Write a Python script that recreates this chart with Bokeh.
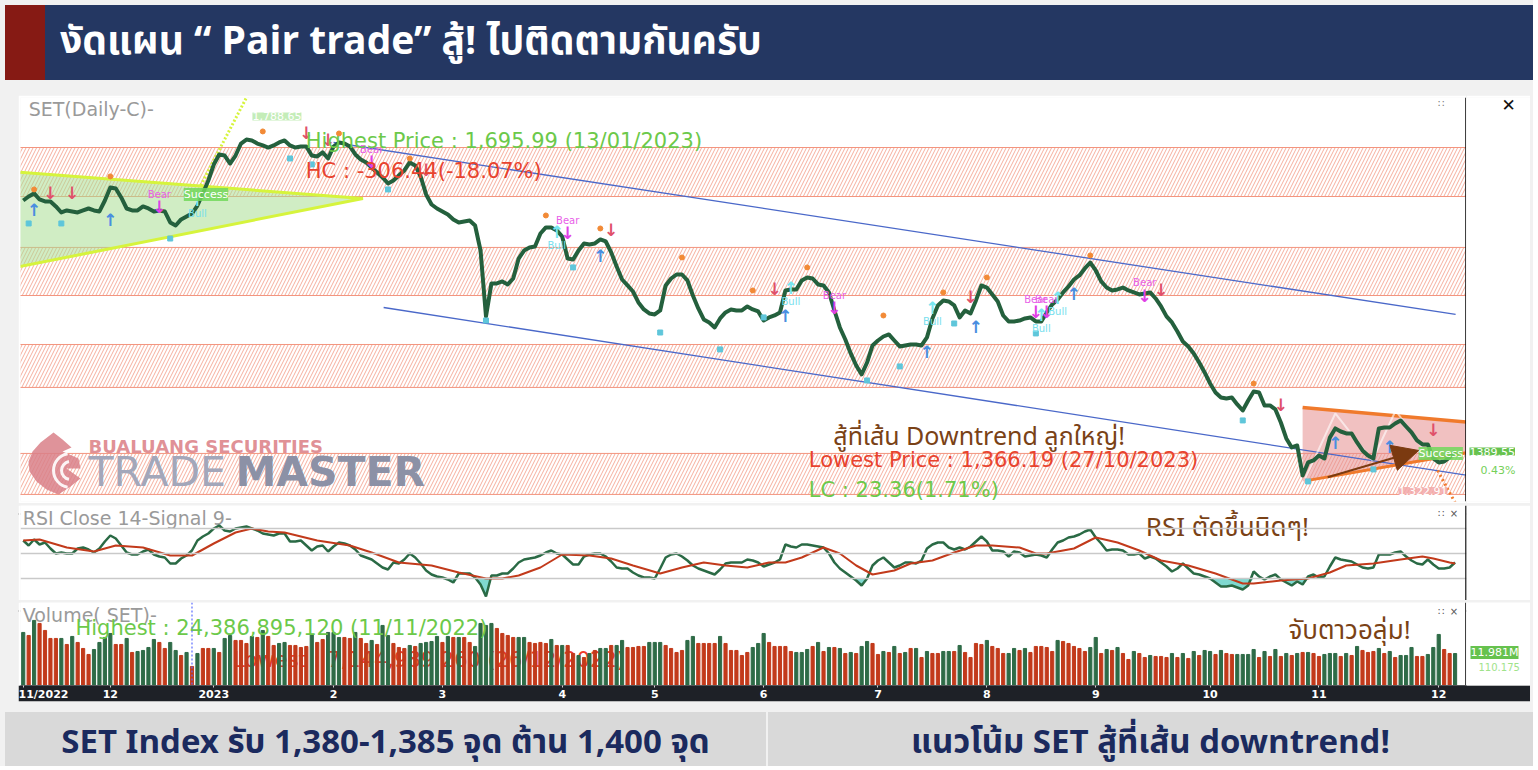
import numpy as np
from bokeh.plotting import figure
from bokeh.models import (Range1d, ColumnDataSource, Span, Label, Div,
                          FixedTicker, Arrow, NormalHead)
from bokeh.layouts import column, row
from bokeh.core.properties import value
from bokeh.embed import file_html
from bokeh.resources import INLINE

# ---------------------------------------------------------------- data
# trading-day index 0 = 9 Nov 2022 ... 263 = 1 Dec 2023
close = [
    1634.5, 1638.4, 1641.4, 1635.5, 1633.6, 1633.6, 1628.7, 1622.8, 1624.8, 1623.8,
    1622.8, 1624.8, 1626.7, 1624.8, 1623.8, 1634.5, 1647.2, 1646.2, 1637.5, 1626.7,
    1624.8, 1624.8, 1628.7, 1626.7, 1623.8, 1624.8, 1623.8, 1613.1, 1610.1, 1616.0,
    1618.9, 1621.8, 1629.6, 1641.4, 1654.0, 1669.6, 1679.4, 1678.4, 1670.6, 1678.4,
    1690.1, 1694.0, 1693.1, 1690.1, 1688.2, 1686.2, 1688.2, 1691.1, 1693.1, 1688.2,
    1686.2, 1687.2, 1687.2, 1678.4, 1677.5, 1681.4, 1675.5, 1687.2, 1691.1, 1690.1,
    1687.2, 1679.4, 1674.5, 1671.6, 1666.7, 1661.9, 1657.0, 1651.1, 1654.0, 1658.9,
    1663.8, 1671.6, 1668.7, 1657.9, 1640.4, 1630.6, 1626.7, 1623.8, 1620.9, 1616.0,
    1613.1, 1614.0, 1615.0, 1610.1, 1585.7, 1521.4, 1553.6, 1553.6, 1555.5, 1552.6,
    1558.4, 1577.9, 1585.7, 1588.7, 1589.6, 1602.3, 1608.2, 1608.2, 1605.3, 1599.4,
    1577.9, 1577.0, 1585.7, 1592.6, 1591.6, 1592.6, 1596.5, 1594.5, 1583.8, 1570.1,
    1557.4, 1551.6, 1545.7, 1535.0, 1528.2, 1524.3, 1523.3, 1527.2, 1551.6, 1558.4,
    1562.3, 1562.3, 1556.5, 1541.8, 1529.2, 1518.4, 1515.5, 1510.6, 1519.4, 1525.3,
    1528.2, 1527.2, 1527.2, 1531.1, 1528.2, 1526.2, 1517.4, 1520.4, 1522.3, 1525.3,
    1546.7, 1547.7, 1547.7, 1556.5, 1559.4, 1558.4, 1552.6, 1551.6, 1544.8, 1527.2,
    1510.6, 1498.9, 1485.3, 1473.5, 1464.8, 1476.4, 1493.1, 1497.9, 1501.8, 1503.8,
    1497.9, 1492.1, 1493.1, 1494.0, 1494.0, 1493.1, 1500.9, 1519.4, 1532.1, 1537.0,
    1536.0, 1532.1, 1520.4, 1527.2, 1524.3, 1537.0, 1551.6, 1549.6, 1542.8, 1536.0,
    1522.3, 1516.5, 1516.5, 1517.4, 1519.4, 1520.4, 1516.5, 1516.5, 1525.3, 1533.1,
    1537.9, 1544.8, 1550.6, 1557.4, 1561.4, 1568.2, 1574.0, 1566.2, 1555.5, 1549.6,
    1546.7, 1547.7, 1549.6, 1546.7, 1544.8, 1542.8, 1543.8, 1544.8, 1538.9, 1531.1,
    1521.4, 1515.5, 1506.7, 1496.9, 1492.1, 1485.3, 1476.4, 1466.7, 1456.0, 1447.2,
    1442.3, 1441.3, 1442.3, 1435.5, 1429.6, 1439.4, 1448.2, 1447.2, 1434.5, 1434.5,
    1430.6, 1417.9, 1402.3, 1393.5, 1395.5, 1366.19, 1378.9, 1380.9, 1385.7, 1382.8,
    1403.3, 1412.1, 1409.1, 1407.2, 1407.2, 1398.4, 1390.6, 1385.7, 1382.8, 1412.1,
    1413.0, 1413.0, 1416.9, 1419.9, 1414.0, 1408.2, 1400.4, 1396.5, 1396.5, 1382.8,
    1378.9, 1379.9, 1383.8, 1389.55]

rsi = [
    60.4, 56.4, 61.2, 57.2, 58.8, 54.0, 50.0, 50.8, 50.0, 50.0,
    54.0, 54.8, 53.2, 50.8, 54.0, 59.6, 64.4, 62.0, 56.4, 50.8,
    49.2, 49.2, 51.6, 53.2, 49.2, 47.6, 46.8, 42.0, 42.0, 46.0,
    48.4, 52.4, 60.4, 63.6, 66.0, 70.0, 72.4, 68.4, 67.6, 70.0,
    70.8, 71.6, 70.0, 68.4, 66.0, 65.2, 64.4, 66.0, 66.0, 59.6,
    59.6, 60.4, 56.4, 52.4, 55.6, 56.4, 51.6, 55.6, 58.8, 58.0,
    56.4, 53.2, 48.4, 46.8, 45.2, 42.0, 38.8, 37.2, 42.8, 42.0,
    45.2, 50.0, 46.8, 42.0, 36.4, 33.2, 31.6, 30.8, 29.2, 26.8,
    34.0, 34.0, 34.0, 30.8, 25.2, 15.6, 32.4, 32.4, 34.0, 34.0,
    38.0, 42.8, 45.2, 46.0, 46.8, 48.4, 50.8, 52.4, 50.0, 49.2,
    45.2, 41.2, 41.2, 47.6, 49.2, 50.0, 50.0, 47.6, 43.6, 38.8,
    38.0, 38.0, 34.8, 32.4, 30.8, 30.8, 30.0, 38.0, 46.8, 49.2,
    50.0, 47.6, 44.4, 40.4, 38.0, 36.4, 34.8, 33.2, 37.2, 42.0,
    42.8, 42.8, 42.8, 45.2, 44.4, 42.8, 39.6, 41.2, 42.8, 45.2,
    57.2, 55.6, 54.8, 57.2, 57.2, 56.4, 55.6, 54.8, 50.0, 42.8,
    38.0, 34.8, 31.6, 28.4, 24.4, 30.0, 40.4, 44.4, 46.8, 42.8,
    38.8, 40.4, 42.8, 42.8, 42.0, 44.4, 54.0, 57.2, 58.8, 58.8,
    54.8, 53.2, 54.8, 53.2, 55.6, 59.6, 63.6, 59.6, 52.4, 52.4,
    51.6, 47.6, 51.6, 50.8, 47.6, 48.4, 49.2, 48.4, 46.8, 53.2,
    58.8, 60.4, 62.8, 63.6, 65.2, 67.6, 69.2, 62.8, 58.0, 52.4,
    53.2, 53.2, 52.4, 49.2, 49.2, 50.0, 46.0, 47.6, 46.0, 42.8,
    39.6, 35.6, 38.0, 42.0, 38.0, 34.0, 33.2, 31.6, 30.0, 26.8,
    23.6, 23.6, 24.4, 22.8, 21.2, 24.4, 35.6, 31.6, 29.2, 31.6,
    33.2, 29.2, 26.8, 24.4, 27.6, 25.2, 31.6, 33.2, 30.8, 31.6,
    39.6, 46.8, 45.2, 44.4, 43.6, 41.2, 38.8, 38.0, 38.8, 49.2,
    49.2, 49.2, 50.8, 51.6, 47.6, 44.4, 42.0, 41.2, 45.2, 41.2,
    38.0, 38.0, 38.8, 42.8]

signal_day = [0, 3, 8, 13, 17, 22, 27, 31, 35, 39, 42, 45, 48, 54, 60, 64, 69, 75, 80, 85,
              88, 91, 95, 99, 104, 108, 112, 117, 121, 125, 129, 133, 137, 140, 143, 147, 150, 153, 156, 160,
              163, 167, 171, 175, 178, 183, 186, 188, 193, 197, 201, 205, 209, 214, 219, 224, 226, 231, 236, 240,
              243, 248, 253, 257, 259, 262, 263]
signal_val = [60.4, 61.2, 54.8, 51.6, 56.4, 54.8, 48.4, 48.4, 58.0, 66.8,
              70.0, 67.6, 66.8, 60.4, 56.4, 50.8, 42.8, 40.4, 34.8, 30.0,
              30.0, 32.4, 38.8, 49.2, 48.4, 46.0, 40.4, 34.0, 38.8, 42.8,
              40.4, 38.8, 42.8, 42.8, 46.8, 54.8, 50.0, 40.4, 33.2, 36.4,
              42.0, 44.4, 50.8, 56.4, 56.4, 54.8, 50.0, 50.0, 54.0, 62.8,
              58.8, 52.4, 44.4, 40.4, 34.0, 26.0, 26.0, 28.4, 30.0, 34.8,
              40.4, 42.0, 45.2, 47.6, 46.0, 42.8, 42.0]
rsi_levels = [70, 50, 30]

# traded value, billion baht
volume_bn = [
    19.88, 18.75, 24.39, 23.25, 20.63, 17.63, 17.63, 17.63, 15.38, 18.38,
    16.13, 13.88, 11.63, 13.5, 16.13, 18.0, 19.5, 15.38, 15.38, 17.63,
    12.38, 12.75, 13.13, 14.25, 17.25, 16.13, 13.88, 16.13, 13.13, 11.25,
    12.38, 7.14, 12.0, 13.88, 13.88, 13.88, 12.38, 17.63, 18.75, 16.88,
    16.88, 15.75, 18.38, 18.0, 20.63, 18.38, 15.0, 15.75, 16.13, 15.0,
    15.0, 14.25, 14.63, 19.13, 16.13, 17.25, 19.88, 19.88, 18.0, 18.0,
    17.63, 19.88, 17.63, 15.75, 16.88, 15.38, 22.5, 18.75, 15.75, 14.25,
    13.88, 15.0, 14.63, 15.75, 16.13, 16.5, 18.38, 16.13, 18.38, 18.0,
    18.0, 18.0, 16.13, 14.63, 23.25, 22.5, 23.25, 21.38, 19.5, 18.75,
    18.0, 18.0, 18.0, 16.13, 15.75, 16.13, 15.75, 17.25, 15.0, 15.0,
    15.0, 12.0, 11.25, 10.5, 12.0, 13.13, 13.88, 13.88, 15.0, 15.0,
    16.88, 14.25, 14.25, 14.63, 14.63, 16.13, 16.13, 16.13, 15.0, 13.88,
    12.38, 13.13, 16.88, 18.38, 15.75, 15.75, 15.75, 15.75, 18.38, 15.75,
    13.13, 13.13, 11.25, 12.38, 14.25, 15.75, 19.5, 16.13, 14.63, 14.63,
    14.63, 12.75, 12.38, 12.38, 13.5, 14.63, 16.13, 12.75, 14.25, 14.25,
    13.88, 12.0, 12.38, 12.0, 14.63, 16.5, 15.75, 11.63, 12.75, 12.38,
    14.63, 12.0, 12.38, 13.88, 13.88, 10.5, 12.75, 12.0, 12.0, 12.75,
    12.75, 12.75, 15.0, 12.38, 10.5, 15.75, 15.38, 16.88, 14.63, 13.88,
    12.0, 12.0, 13.88, 13.13, 13.88, 12.38, 14.63, 14.63, 14.25, 12.75,
    16.88, 16.5, 15.75, 14.63, 13.88, 12.75, 14.25, 18.0, 12.0, 13.5,
    13.13, 14.25, 12.0, 9.75, 12.75, 12.0, 10.5, 11.25, 10.88, 10.88,
    10.5, 12.0, 10.5, 12.0, 10.13, 12.75, 11.25, 13.13, 12.75, 11.63,
    13.13, 12.0, 11.63, 11.63, 11.63, 11.63, 13.5, 10.5, 12.75, 10.88,
    13.5, 10.88, 12.0, 11.25, 12.0, 12.38, 12.38, 12.0, 10.88, 11.63,
    12.0, 12.0, 10.88, 12.0, 11.25, 14.63, 13.13, 12.38, 12.75, 13.88,
    12.0, 12.75, 10.5, 11.25, 11.25, 14.25, 10.88, 10.88, 11.63, 14.25,
    19.13, 13.5, 12.0, 11.98]
volume_up = [
    1, 0, 1, 0, 0, 0, 0, 1, 0, 1,  0, 0, 0, 1, 1, 1, 1, 0, 0, 1,
    0, 1, 1, 1, 1, 0, 0, 1, 1, 0,  1, 0, 1, 0, 0, 1, 0, 1, 1, 0,
    0, 0, 1, 0, 1, 0, 0, 1, 1, 0,  0, 0, 0, 1, 0, 0, 1, 1, 1, 0,
    0, 1, 0, 0, 1, 0, 1, 1, 0, 0,  0, 1, 0, 1, 1, 1, 1, 0, 1, 0,
    1, 0, 0, 1, 1, 1, 1, 0, 0, 0,  0, 1, 1, 0, 0, 0, 0, 1, 0, 1,
    0, 0, 1, 0, 1, 0, 1, 1, 0, 1,  1, 0, 0, 0, 0, 1, 1, 1, 0, 0,
    0, 0, 1, 1, 0, 0, 0, 0, 1, 0,  0, 0, 0, 0, 1, 1, 1, 0, 0, 0,
    0, 0, 1, 1, 1, 0, 1, 0, 1, 0,  1, 0, 1, 0, 1, 1, 0, 0, 1, 0,
    1, 0, 1, 0, 1, 0, 1, 0, 0, 1,  1, 0, 1, 0, 0, 0, 0, 1, 0, 0,
    0, 1, 1, 0, 1, 0, 0, 0, 0, 0,  1, 0, 0, 0, 0, 0, 1, 1, 0, 1,
    0, 1, 0, 0, 1, 0, 0, 1, 0, 0,  0, 1, 0, 1, 0, 1, 0, 1, 1, 0,
    1, 0, 0, 1, 1, 1, 1, 0, 1, 0,  1, 0, 1, 0, 1, 0, 1, 0, 0, 1,
    1, 1, 0, 1, 0, 1, 0, 0, 0, 1,  0, 1, 0, 1, 1, 1, 0, 0, 1, 1,
    1, 0, 0, 1]

month_tick_day = [0, 16, 35, 57, 77, 99, 116, 136, 157, 177, 197, 218, 238, 260]
month_tick_label = ["11/2022", "12", "2023", "2", "3", "4", "5", "6", "7", "8",
                    "9", "10", "11", "12"]

# support / resistance zones (index points)
zone_bottom = [1638.4, 1541.8, 1452.1, 1347.7]
zone_top = [1686.2, 1588.7, 1494.0, 1387.7]

# drawn trend lines / patterns (day, price)
upper_trend_day = [57.0, 263.1]
upper_trend_price = [1691.1, 1523.3]
lower_trend_day = [66.2, 265.1]
lower_trend_price = [1530.1, 1366.4]
wedge_day = [-1.0, 62.4, -1.0]
wedge_price = [1662.2, 1636.5, 1569.6]
breakout_day = [32.6, 41.5]
breakout_price = [1649.2, 1740.0]
flag_day = [235.0, 265.5, 265.5, 235.0]
flag_price = [1432.5, 1418.2, 1388.2, 1360.4]
flag_top_day = [235.0, 265.5]
flag_top_price = [1432.5, 1418.2]
flag_bot_day = [236.0, 265.5]
flag_bot_price = [1361.4, 1388.7]
flag_legs_day = [235.5, 241.0, 247.8, 252.1, 257.6]
flag_legs_price = [1363.3, 1426.7, 1380.9, 1429.6, 1388.7]
target_dn_day = [259.8, 264.0]
target_dn_price = [1371.0, 1330.0]
hint_arrow_day = [239.6, 256.3]
hint_arrow_price = [1364.4, 1390.6]

# watermark logo outline (decoration)
logo_day = [5.57, 7.22, 8.87, 7.22, 10.16, 10.53, 7.95, 10.53, 8.69, 6.48,
            4.28, 2.44, 1.16, 0.97, 1.71, 3.18]
logo_price = [1408.2, 1401.3, 1393.5, 1389.6, 1382.8, 1373.0, 1373.0, 1363.3, 1355.5, 1347.7,
              1352.5, 1360.4, 1370.1, 1379.9, 1389.6, 1398.4]

# signal markers
swing_high_day = [2, 16, 44, 58, 71, 96, 106, 121, 134, 144, 158, 169, 177, 196, 226]
swing_high_price = [1645.3, 1658.0, 1701.9, 1699.9, 1675.5, 1619.9, 1607.2, 1578.9,
                    1546.7, 1569.2, 1522.3, 1544.8, 1559.4, 1580.9, 1455.9]
swing_low_day = [1, 7, 27, 49, 53, 67, 85, 101, 117, 128, 136, 155, 161, 171, 186, 224, 236, 248]
swing_low_price = [1612.1, 1612.1, 1597.4, 1675.5, 1669.7, 1645.3, 1517.4, 1569.2, 1505.7,
                   1489.2, 1520.4, 1458.9, 1472.6, 1514.5, 1504.8, 1419.9, 1360.4, 1372.1]
sell_day = [5, 9, 52, 56, 74, 108, 138, 174, 209, 231, 259]
sell_price = [1641.4, 1641.4, 1699.9, 1694.0, 1663.8, 1605.3, 1547.7, 1539.9, 1546.7, 1434.5, 1410.1]
buy_day = [2, 16, 106, 140, 166, 175, 193, 241, 251]
buy_price = [1624.8, 1615.0, 1579.9, 1521.4, 1486.2, 1510.6, 1542.8, 1397.4, 1393.5]
bear_day = [25, 64, 100, 149, 186, 188, 206]
bear_price = [1627.7, 1671.6, 1602.3, 1529.2, 1525.3, 1525.3, 1541.8]
bull_day = [32, 98, 141, 167, 187, 190]
bull_price = [1634.5, 1603.3, 1548.7, 1529.2, 1522.3, 1538.9]

# ---------------------------------------------------------------- styling
day = np.arange(len(close))
X0, X1 = -0.5, 265.1
xr = Range1d(X0, X1)
FONT = "DejaVu Sans"
LAT = value(FONT)
THAI = value("Noto Sans Thai, Noto Sans, sans-serif")
GREEN_TXT = "#6cc94a"
RED_TXT = "#e8432e"
BROWN = "#7a4216"
LINE_G = "#24603d"
BAR_G = "#2e6b47"
BAR_R = "#c23a1b"
LEFT = 18


def panel(w, h, xrange, yrange, top=0, bottom=0, right=0, left=2, mtop=0, mleft=LEFT):
    p = figure(width=w, height=h, x_range=xrange, y_range=yrange,
               output_backend="svg", toolbar_location=None,
               x_axis_location=None, y_axis_location=None,
               min_border_left=left, min_border_right=right,
               min_border_top=top, min_border_bottom=bottom,
               background_fill_color="white", border_fill_color="white",
               outline_line_color=None, margin=(mtop, 0, 0, mleft))
    p.grid.visible = False
    return p


# ---------------------------------------------------------------- price panel
price_range = Range1d(1340.8, 1735.0)
pp = panel(1448, 408, xr, price_range, top=2, bottom=2, mtop=15)
pp_r = panel(64, 408, Range1d(0, 64), price_range, top=2, bottom=2, left=0, mtop=15, mleft=0)

pp.quad(left=-5, right=300, bottom=zone_bottom, top=zone_top,
        fill_alpha=0, line_color="#f3957f", line_width=1,
        hatch_pattern="/", hatch_color="#f5a592", hatch_scale=7, hatch_weight=0.9)

pp.patch(wedge_day, wedge_price, fill_color="#a9df93", fill_alpha=0.55,
         line_color="#d6f43c", line_width=3)
pp.patch(flag_day, flag_price, fill_color="#e58e8e", fill_alpha=0.55, line_color=None)

# watermark
pp.patch(logo_day, logo_price, fill_color="#d98088", fill_alpha=0.85, line_color=None)
pp.arc(x=[8.69, 8.69], y=[1371.1, 1371.1], radius=[9, 17], radius_units="screen",
       start_angle=np.deg2rad(100), end_angle=np.deg2rad(260),
       line_color="white", line_width=3, line_alpha=0.9)
pp.text(x=[12.0], y=[1394.5], text=["BUALUANG SECURITIES"], text_font=LAT,
        text_font_style="bold", text_font_size="18px", text_color="#de8a90",
        text_baseline="middle", text_alpha=0.95)
pp.text(x=[12.0], y=[1369.1], text=["TRADE"], text_font=LAT, text_font_size="41px",
        text_color="#a3a7ba", text_baseline="middle")
pp.text(x=[39.0], y=[1369.1], text=["MASTER"], text_font=LAT, text_font_style="bold",
        text_font_size="41px", text_color="#8c91a6", text_baseline="middle")

pp.line(upper_trend_day, upper_trend_price, line_color="#4a68c9", line_width=1.3)
pp.line(lower_trend_day, lower_trend_price, line_color="#4a68c9", line_width=1.3)
pp.line(breakout_day, breakout_price, line_color="#d6f43c", line_width=3, line_dash="2 2")
pp.line(flag_top_day, flag_top_price, line_color="#f07a2c", line_width=3.5)
pp.line(flag_bot_day, flag_bot_price, line_color="#f07a2c", line_width=3)
pp.line(target_dn_day, target_dn_price, line_color="#f07a2c", line_width=3, line_dash="2 3")
pp.line(flag_legs_day, flag_legs_price, line_color="white", line_width=2, line_alpha=0.6)

pp.line(day, close, line_color=LINE_G, line_width=4, line_join="round")

pp.scatter(swing_high_day, swing_high_price, size=5, color="#f28a36")
pp.scatter(swing_low_day, swing_low_price, marker="square", size=5, color="#5fc6da")

pp.text(x=sell_day, y=sell_price, text=["↓"] * len(sell_day), text_font=LAT,
        text_font_style="bold", text_font_size="17px", text_color="#e0506a",
        text_align="center", text_baseline="middle")
pp.text(x=buy_day, y=buy_price, text=["↑"] * len(buy_day), text_font=LAT,
        text_font_style="bold", text_font_size="17px", text_color="#4a8ee0",
        text_align="center", text_baseline="middle")
pp.text(x=bear_day, y=bear_price, text=["↓"] * len(bear_day), text_font=LAT,
        text_font_style="bold", text_font_size="17px", text_color="#e040e6",
        text_align="center", text_baseline="middle")
pp.text(x=bear_day, y=bear_price, text=["Bear"] * len(bear_day), text_font=LAT,
        text_font_size="10px", text_color="#e860e8", text_align="center",
        text_baseline="middle", y_offset=-13)
pp.text(x=bull_day, y=bull_price, text=["↑"] * len(bull_day), text_font=LAT,
        text_font_style="bold", text_font_size="17px", text_color="#78e6f0",
        text_align="center", text_baseline="middle")
pp.text(x=bull_day, y=bull_price, text=["Bull"] * len(bull_day), text_font=LAT,
        text_font_size="10px", text_color="#78e0ee", text_align="center",
        text_baseline="middle", y_offset=13)

# panel header
pp.text(x=[1.0], y=[1723.3], text=["SET(Daily-C)-"], text_font=LAT,
        text_font_size="19px", text_color="#9a9a9a", text_baseline="middle")

pp.text(x=[51.9], y=[1692.1], text=["Highest Price : 1,695.99 (13/01/2023)"], text_font=LAT,
        text_font_size="21px", text_color=GREEN_TXT, text_baseline="middle")
pp.text(x=[51.9], y=[1662.8], text=["HC : -306.44(-18.07%)"], text_font=LAT,
        text_font_size="21px", text_color=RED_TXT, text_baseline="middle")
pp.text(x=[144.3], y=[1380.9], text=["Lowest Price : 1,366.19 (27/10/2023)"], text_font=LAT,
        text_font_size="21px", text_color=RED_TXT, text_baseline="middle")
pp.text(x=[144.3], y=[1351.6], text=["LC : 23.36(1.71%)"], text_font=LAT,
        text_font_size="21px", text_color=GREEN_TXT, text_baseline="middle")
pp.text(x=[148.8], y=[1403.3], text=["สู้ที่เส้น Downtrend ลูกใหญ่!"], text_font=THAI,
        text_font_size="25px", text_color=BROWN, text_baseline="middle")

for (lx, ly, txt, bg, alpha) in [(42.1, 1716.5, "1,788.65", "#b5e8a6", 0.8),
                                 (29.5, 1640.4, "Success", "#72d85c", 0.85),
                                 (252.6, 1351.0, "1,322.91", "#f2a8a8", 0.85),
                                 (256.3, 1387.7, "Success", "#72d85c", 0.85)]:
    pp.add_layout(Label(x=lx, y=ly, text=txt, text_font=FONT, text_font_size="11px",
                        text_color="white", text_baseline="middle",
                        background_fill_color=bg, background_fill_alpha=alpha))

pp.add_layout(Arrow(end=NormalHead(size=26, fill_color="#7b3a10", line_color="#7b3a10"),
                    x_start=hint_arrow_day[0], y_start=hint_arrow_price[0],
                    x_end=hint_arrow_day[1], y_end=hint_arrow_price[1],
                    line_color="#7b3a10", line_width=2))
pp.text(x=[260.4], y=[1729.0], text=["∷"], text_font=LAT, text_font_size="10px",
        text_color="#777777", text_align="center", text_baseline="middle")
pp.add_layout(Span(location=X1 - 0.1, dimension="height", line_color="#111111", line_width=1.5))

# right margin of the price panel: last-price tag
pp_r.add_layout(Label(x=3, y=close[-1], text=f"{close[-1]:.2f}", text_font=FONT,
                      text_font_size="11px", text_color="white", text_baseline="middle",
                      background_fill_color="#66c24e"))
pp_r.add_layout(Label(x=14, y=1371.1, text="0.43%", text_font=FONT, text_font_size="11px",
                      text_color="#76d05a", text_baseline="middle"))
pp_r.add_layout(Label(x=42, y=1727.2, text="✕", text_font=FONT, text_font_size="17px",
                      text_color="#111111", text_align="center", text_baseline="middle"))

# ---------------------------------------------------------------- RSI panel
pr = panel(1512, 95, xr, Range1d(12.4, 88.4), right=64)
for lv in rsi_levels:
    pr.add_layout(Span(location=lv, dimension="width", line_color="#c9c9c9", line_width=1.5))
rsi_arr = np.array(rsi)
pr.varea(x=day, y1=np.minimum(rsi_arr, 30), y2=30, fill_color="#68d2c8", fill_alpha=0.85)
pr.varea(x=day, y1=70, y2=np.maximum(rsi_arr, 70), fill_color="#f3c4a2", fill_alpha=0.9)
pr.text(x=[-0.1], y=[78.4], text=["RSI Close 14-Signal 9-"], text_font=LAT,
        text_font_size="19px", text_color="#9a9a9a", text_baseline="middle")
pr.line(day, rsi, line_color="#2a6a45", line_width=2.5)
pr.line(signal_day, signal_val, line_color="#c23a1b", line_width=2)
pr.text(x=[206.2], y=[70.8], text=["RSI ตัดขึ้นนิดๆ!"], text_font=THAI,
        text_font_size="26px", text_color=BROWN, text_baseline="middle")
pr.text(x=[260.4, 262.8], y=[82.0, 82.0], text=["∷", "×"], text_font=LAT,
        text_font_size="10px", text_color="#555555", text_align="center", text_baseline="middle")
pr.add_layout(Span(location=X1 - 0.1, dimension="height", line_color="#111111", line_width=1.5))

# ---------------------------------------------------------------- volume panel
vol_range = Range1d(0, 31.1)
pv = panel(1448, 83, xr, vol_range)
pv_r = panel(64, 83, Range1d(0, 64), vol_range, left=0, mleft=0)
vol_src = ColumnDataSource(dict(day=day, vol=volume_bn,
                                color=[BAR_G if u else BAR_R for u in volume_up]))
pv.text(x=[-0.1], y=[26.4], text=["Volume( SET)-"], text_font=LAT,
        text_font_size="19px", text_color="#9a9a9a", text_baseline="middle")
pv.text(x=[38.6], y=[9.4], text=["Lowest : 7,144,989,260 (26/12/2022)"], text_font=LAT,
        text_font_size="21px", text_color="#ee3b2b", text_baseline="middle")
pv.vbar(x="day", top="vol", width=0.58, color="color", source=vol_src)
pv.text(x=[9.6], y=[21.4], text=["Highest : 24,386,895,120 (11/11/2022)"], text_font=LAT,
        text_font_size="21px", text_color=GREEN_TXT, text_baseline="middle")
pv.text(x=[232.4], y=[20.6], text=["จับตาวอลุ่ม!"], text_font=THAI,
        text_font_size="26px", text_color=BROWN, text_baseline="middle")
pv.add_layout(Span(location=31, dimension="height", line_color="#5a6cff",
                   line_width=1.2, line_dash="2 2"))
pv.text(x=[260.4, 262.8], y=[27.8, 27.8], text=["∷", "×"], text_font=LAT,
        text_font_size="10px", text_color="#555555", text_align="center", text_baseline="middle")
pv.add_layout(Span(location=X1 - 0.1, dimension="height", line_color="#111111", line_width=1.5))
pv_r.add_layout(Label(x=4, y=12.4, text="11.981M", text_font=FONT, text_font_size="11px",
                      text_color="white", text_baseline="middle",
                      background_fill_color="#66c24e"))
pv_r.add_layout(Label(x=12, y=7.0, text="110.175", text_font=FONT, text_font_size="10px",
                      text_color="#9fe38a", text_baseline="middle"))

# ---------------------------------------------------------------- date axis strip
pa = figure(width=1512, height=16, x_range=xr, y_range=Range1d(0, 1),
            output_backend="svg", toolbar_location=None,
            x_axis_location="below", y_axis_location=None,
            min_border_left=2, min_border_right=64, min_border_top=0, min_border_bottom=0,
            background_fill_color="#1e2127", border_fill_color="#1e2127",
            outline_line_color=None, margin=(0, 0, 0, LEFT))
pa.scatter([0], [0.5], alpha=0)
pa.grid.visible = False
ax = pa.xaxis[0]
ax.ticker = FixedTicker(ticks=month_tick_day)
ax.major_label_overrides = {d: lab for d, lab in zip(month_tick_day, month_tick_label)}
ax.major_label_text_align = "left"
ax.major_label_text_color = "white"
ax.major_label_text_font = FONT
ax.major_label_text_font_style = "bold"
ax.major_label_text_font_size = "11px"
ax.major_label_standoff = 0
ax.axis_line_color = None
ax.major_tick_line_color = "#d0d0d0"
ax.major_tick_out = 2
ax.major_tick_in = 0
ax.minor_tick_line_color = None

# ---------------------------------------------------------------- banner / footer
THAI_CSS = "'Noto Sans Thai','Noto Sans',sans-serif"
banner = Div(width=1528, height=75, margin=(5, 0, 0, 5), text=(
    '<div style="position:relative;width:1528px;height:75px;background:#243762;overflow:hidden;">'
    '<div style="position:absolute;left:0;top:0;width:40px;height:75px;background:#861a14;"></div>'
    '<div style="position:absolute;left:55px;top:2px;height:72px;line-height:72px;white-space:nowrap;'
    f'color:#ffffff;font-family:{THAI_CSS};font-weight:700;font-size:39px;">'
    'งัดแผน “ Pair trade” สู้! ไปติดตามกันครับ</div></div>'))

sep1 = Div(width=1512, height=2, margin=(0, 0, 0, LEFT),
           text='<div style="width:1512px;height:2px;background:#c4c4c4;"></div>')
sep2 = Div(width=1512, height=2, margin=(0, 0, 0, LEFT),
           text='<div style="width:1512px;height:2px;background:#c4c4c4;"></div>')

footer = Div(width=1528, height=54, margin=(11, 0, 0, 5), text=(
    '<div style="position:relative;width:1528px;height:54px;">'
    '<div style="position:absolute;left:0;top:0;width:761px;height:54px;background:#d9d9d9;"></div>'
    '<div style="position:absolute;left:763px;top:0;width:765px;height:54px;background:#d9d9d9;"></div>'
    '<div style="position:absolute;left:0;top:8px;width:761px;height:46px;line-height:46px;'
    f'text-align:center;color:#1b2a5e;font-family:{THAI_CSS};font-weight:700;font-size:33px;">'
    'SET Index รับ 1,380-1,385 จุด ต้าน 1,400 จุด</div>'
    '<div style="position:absolute;left:763px;top:8px;width:765px;height:46px;line-height:46px;'
    f'text-align:center;color:#1b2a5e;font-family:{THAI_CSS};font-weight:700;font-size:33px;">'
    'แนวโน้ม SET สู้ที่เส้น downtrend!</div></div>'))

layout = column(banner, row(pp, pp_r, spacing=0), sep1, pr, sep2,
                row(pv, pv_r, spacing=0), pa, footer, spacing=0,
                styles={"background-color": "#f1f1f1"})

open("out.html", "w", encoding="utf-8").write(file_html(layout, INLINE, title="SET Pair trade"))
